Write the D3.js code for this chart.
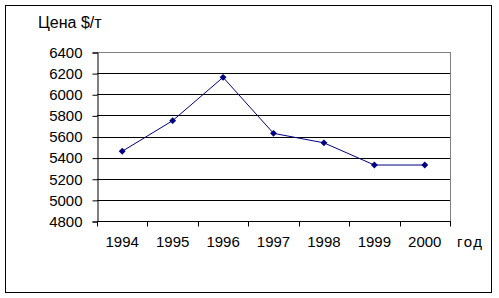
<!DOCTYPE html>
<html>
<head>
<meta charset="utf-8">
<script src="https://cdn.jsdelivr.net/npm/d3@7"></script>
<style>
  body { margin: 0; background: #fff; }
  text { font-family: "Liberation Sans", Arial, sans-serif; }
</style>
</head>
<body>
<svg id="chart"></svg>
<script>
var years = ["1994", "1995", "1996", "1997", "1998", "1999", "2000"];
var prices = [5460, 5750, 6160, 5630, 5540, 5330, 5330];
var yTicks = [4800, 5000, 5200, 5400, 5600, 5800, 6000, 6200, 6400];

var width = 499, height = 298;
var plotL = 97, plotR = 450, plotT = 52, plotB = 221;

var svg = d3.select("#chart")
    .attr("width", width)
    .attr("height", height);

// outer frame
svg.append("rect")
    .attr("x", 5.5).attr("y", 5.5)
    .attr("width", 486).attr("height", 287)
    .attr("fill", "#fff")
    .attr("stroke", "#000");

var x = d3.scaleBand().domain(years).range([plotL, plotR]);
var y = d3.scaleLinear().domain([4800, 6400]).range([plotB, plotT]);

// gridlines
svg.selectAll("line.grid")
    .data(yTicks.slice(1))
    .enter().append("line")
    .attr("class", "grid")
    .attr("x1", plotL).attr("x2", plotR)
    .attr("y1", function(d) { return Math.round(y(d)) + 0.5; })
    .attr("y2", function(d) { return Math.round(y(d)) + 0.5; })
    .attr("stroke", function(d) { return d === 6400 ? "#808080" : "#000"; });

// right border of plot area
svg.append("line")
    .attr("x1", plotR + 0.5).attr("x2", plotR + 0.5)
    .attr("y1", plotT).attr("y2", plotB)
    .attr("stroke", "#808080");

// y axis
var yAxis = d3.axisLeft(y).tickValues(yTicks).tickSize(5).tickPadding(10)
    .tickFormat(d3.format("d"));
var gy = svg.append("g")
    .attr("transform", "translate(" + (plotL + 0.5) + ",0.5)")
    .call(yAxis);
gy.select(".domain").attr("stroke", "#000");
gy.selectAll("text").attr("font-size", "15px").attr("fill", "#000")
    .attr("font-family", "Liberation Sans, Arial, sans-serif");

// x axis
var gx = svg.append("g")
    .attr("transform", "translate(0," + (plotB + 0.5) + ")");
gx.append("line")
    .attr("x1", plotL).attr("x2", plotR + 1)
    .attr("stroke", "#000");
var bounds = years.map(function(d) { return x(d); }).concat([plotR]);
gx.selectAll("line.tick")
    .data(bounds)
    .enter().append("line")
    .attr("class", "tick")
    .attr("x1", function(d) { return Math.round(d) + 0.5; })
    .attr("x2", function(d) { return Math.round(d) + 0.5; })
    .attr("y1", 0).attr("y2", 5)
    .attr("stroke", "#000");
gx.selectAll("text")
    .data(years)
    .enter().append("text")
    .attr("x", function(d) { return x(d) + x.bandwidth() / 2; })
    .attr("y", 25.5)
    .attr("text-anchor", "middle")
    .attr("font-size", "15px")
    .text(function(d) { return d; });

// line
var line = d3.line()
    .x(function(d, i) { return x(years[i]) + x.bandwidth() / 2; })
    .y(function(d) { return y(d); });
svg.append("path")
    .datum(prices)
    .attr("d", line)
    .attr("fill", "none")
    .attr("stroke", "#000080")
    .attr("stroke-width", 1);

// markers
svg.selectAll("path.marker")
    .data(prices)
    .enter().append("path")
    .attr("class", "marker")
    .attr("d", d3.symbol().type(d3.symbolDiamond2).size(30))
    .attr("transform", function(d, i) {
        return "translate(" + (x(years[i]) + x.bandwidth() / 2) + "," + y(d) + ")";
    })
    .attr("fill", "#000080");

// titles
svg.append("text")
    .attr("x", 38).attr("y", 28)
    .attr("font-size", "16px")
    .text("Цена $/т");
svg.append("text")
    .attr("x", 457).attr("y", 247)
    .attr("font-size", "15px")
    .attr("textLength", 25)
    .attr("lengthAdjust", "spacing")
    .text("год");
</script>
</body>
</html>
